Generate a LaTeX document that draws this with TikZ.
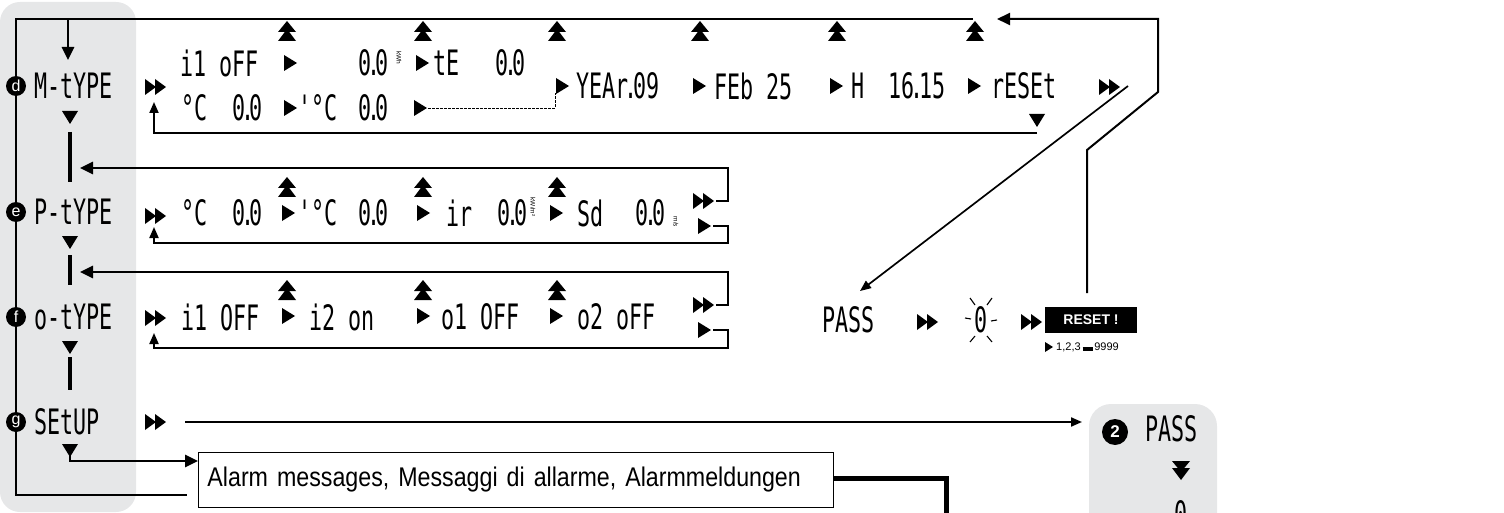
\documentclass[tikz,border=0pt]{standalone}
\usepackage{fontspec}
\setmainfont{Liberation Sans}
\newfontfamily\lcdfont[FakeStretch=0.62]{DejaVu Sans Mono}
\newfontfamily\narrowfont[FakeStretch=0.86]{Liberation Sans}
\usetikzlibrary{arrows.meta}
\definecolor{panelgray}{HTML}{E6E7E8}
% decimal point that takes almost no room, as on a segment display
\newcommand\lcdpt{\kern-0.12em.\kern-0.12em}

\tikzset{
  fwd/.pic={\fill (-6,-8) -- (7,0) -- (-6,8) -- cycle;},
  smallfwd/.pic={\fill (-4,-5) -- (4,0) -- (-4,5) -- cycle;},
  ffwd/.pic={\fill (-11,-8) -- (0,0) -- (-11,8) -- cycle;
             \fill (-1,-8) -- (10,0) -- (-1,8) -- cycle;},
  upup/.pic={\fill (0,-11) -- (9,0) -- (-9,0) -- cycle;
             \fill (0,-3) -- (9,9) -- (-9,9) -- cycle;},
  dn/.pic={\fill (-8,-6) -- (8,-6) -- (0,7) -- cycle;},
  dndn/.pic={\fill (-9,-9) -- (9,-9) -- (0,2) -- cycle;
             \fill (-9,-2) -- (9,-2) -- (0,10) -- cycle;},
}

\begin{document}
\begin{tikzpicture}[x=1pt,y=-1pt,
  lcd/.style={font=\lcdfont\fontsize{35}{35}\selectfont, inner sep=0pt, anchor=west},
  unit/.style={font=\fontsize{6.5}{6.5}\selectfont, inner sep=0pt, rotate=-90},
  circ/.style={circle, fill=black, text=white, inner sep=0pt, minimum size=20pt,
               font=\fontsize{16}{16}\selectfont},
  wire/.style={line width=2.8pt},
  ret/.style={line width=2pt},
  thinwire/.style={line width=1.7pt},
  tip/.style={-{Triangle[length=13pt,width=12pt]}},
  smalltip/.style={-{Triangle[length=11pt,width=9pt]}},
  bar/.style={line width=3.2pt},
]
\useasboundingbox (0,0) rectangle (1504,513);

% grey panels
\fill[panelgray, rounded corners=20pt] (0,2) rectangle (136,512);
\fill[panelgray, rounded corners=22pt] (1089,404) rectangle (1217,570);

% ---------- main loop on the left ----------
\coordinate (topR) at (973,19);
\coordinate (topL) at (16,19);
\coordinate (botL) at (16,495);
\coordinate (botR) at (187,495);
\draw[wire, line join=miter] (topR) -- (topL) -- (botL) -- (botR);
\coordinate (mIn0) at (68,19);
\coordinate (mIn1) at (68,60);
\draw[wire, tip] (mIn0) -- (mIn1);

% menu entries
\node[circ] (cd) at (16,86) {d};
\node[circ] (ce) at (16,212) {e};
\node[circ] (cf) at (16,317) {f};
\node[circ] (cg) at (16,422) {g};
\node[lcd] (mtype) at (34,86) {M-tYPE};
\node[lcd] (ptype) at (34,212) {P-tYPE};
\node[lcd] (otype) at (34,317) {o-tYPE};
\node[lcd] (setup) at (34,422) {SEtUP};

\pic at (70,117) {dn};
\pic at (70,242) {dn};
\pic at (70,347) {dn};
\pic at (70,450) {dn};
\draw[bar] (70,132) -- (70,182);
\draw[bar] (70,255) -- (70,285);
\draw[bar] (70,357) -- (70,390);

% ---------- row d ----------
\pic at (156,87) {ffwd};
\node[lcd] (d1) at (180,63) {i1 oFF};
\pic at (290,63) {fwd};
\node[lcd] (d2) at (358,63) {0\lcdpt0};
\node[unit] (d2u) at (399,58) {kWh};
\pic at (422,63) {fwd};
\node[lcd] (d3) at (433,63) {tE};
\node[lcd] (d4) at (495,63) {0\lcdpt0};

\node[lcd] (d5) at (181,108) {°C};
\node[lcd] (d6) at (232,108) {0\lcdpt0};
\pic at (290,108) {fwd};
\node[lcd] (d7) at (298,108) {'°C};
\node[lcd] (d8) at (358,108) {0\lcdpt0};
\pic at (420,108) {fwd};
\coordinate (dashA) at (428,108);
\coordinate (dashB) at (555,108);
\coordinate (dashC) at (555,93);
\draw[line width=0.8pt, dash pattern=on 2.5pt off 1.5pt] (dashA) -- (dashB) -- (dashC);

\pic at (562,86) {fwd};
\node[lcd] (d9) at (576,86) {YEAr\lcdpt09};
\pic at (699,86) {fwd};
\node[lcd] (d10) at (714,86) {FEb 25};
\pic at (836,86) {fwd};
\node[lcd] (d11) at (851,86) {H};
\node[lcd] (d12) at (888,86) {16\lcdpt15};
\pic at (974,86) {fwd};
\node[lcd] (d13) at (991,86) {rESEt};
\pic at (1110,87) {ffwd};

\foreach \x in {287,423,557,700,837,975} \pic at (\x,32) {upup};
\pic at (1037,120) {dn};
\coordinate (dR) at (1037,133);
\coordinate (dL) at (154,133);
\coordinate (dUp) at (154,102);
\draw[ret, smalltip] (dR) -- (dL) -- (dUp);

% ---------- row e ----------
\pic at (156,216) {ffwd};
\node[lcd] (e1) at (181,213) {°C};
\node[lcd] (e2) at (232,213) {0\lcdpt0};
\pic at (288,213) {fwd};
\node[lcd] (e3) at (298,213) {'°C};
\node[lcd] (e4) at (358,213) {0\lcdpt0};
\pic at (423,213) {fwd};
\node[lcd] (e5) at (446,213) {ir};
\node[lcd] (e6) at (497,213) {0\lcdpt0};
\node[unit] (e6u) at (533,207) {kW/m²};
\pic at (556,213) {fwd};
\node[lcd] (e7) at (577,213) {Sd};
\node[lcd] (e8) at (635,213) {0\lcdpt0};
\node[unit] (e8u) at (676,222) {m/s};
\pic at (704,201) {ffwd};
\pic at (704,226) {fwd};
\foreach \x in {287,423,557} \pic at (\x,188) {upup};
\coordinate (eT0) at (716,201);
\coordinate (eT1) at (728,201);
\coordinate (eT2) at (728,168);
\coordinate (eT3) at (80,168);
\draw[wire, tip, line join=miter] (eT0) -- (eT1) -- (eT2) -- (eT3);
\coordinate (eB0) at (713,226);
\coordinate (eB1) at (728,226);
\coordinate (eB2) at (728,243);
\coordinate (eB3) at (154,243);
\coordinate (eB4) at (154,227);
\draw[ret, smalltip, line join=miter] (eB0) -- (eB1) -- (eB2) -- (eB3) -- (eB4);

% ---------- row f ----------
\pic at (156,318) {ffwd};
\node[lcd] (f1) at (181,317) {i1 OFF};
\pic at (288,316) {fwd};
\node[lcd] (f2) at (309,317) {i2 on};
\pic at (423,316) {fwd};
\node[lcd] (f3) at (441,317) {o1 OFF};
\pic at (556,316) {fwd};
\node[lcd] (f4) at (577,317) {o2 oFF};
\pic at (704,305) {ffwd};
\pic at (704,330) {fwd};
\foreach \x in {287,423,557} \pic at (\x,291) {upup};
\coordinate (fT0) at (716,305);
\coordinate (fT1) at (728,305);
\coordinate (fT2) at (728,272);
\coordinate (fT3) at (80,272);
\draw[wire, tip, line join=miter] (fT0) -- (fT1) -- (fT2) -- (fT3);
\coordinate (fB0) at (713,330);
\coordinate (fB1) at (728,330);
\coordinate (fB2) at (728,348);
\coordinate (fB3) at (154,348);
\coordinate (fB4) at (154,333);
\draw[ret, smalltip, line join=miter] (fB0) -- (fB1) -- (fB2) -- (fB3) -- (fB4);

% ---------- row g ----------
\pic at (156,422) {ffwd};
\coordinate (gA) at (185,422);
\draw[ret, smalltip] (gA) -- (1082,422);

% ---------- password / reset ----------
\node[lcd] (pass) at (822,320) {PASS};
\pic at (928,322) {ffwd};
\node[lcd, anchor=center] (digit) at (981,320) {0};
\begin{scope}[line width=1.1pt]
  \draw (970,298) -- (975,305);
  \draw (992,298) -- (987,305);
  \draw (965,318) -- (971,319);
  \draw (991,321) -- (997,320);
  \draw (970,342) -- (975,336);
  \draw (992,342) -- (987,336);
\end{scope}
\pic at (1032,322) {ffwd};
\node[fill=black, text=white, font=\bfseries\fontsize{14}{14}\selectfont,
      minimum width=92pt, minimum height=26pt, inner sep=0pt] (reset) at (1091,320) {RESET !};
\pic at (1049,347) {smallfwd};
\node[anchor=west, inner sep=0pt, font=\fontsize{11}{11}\selectfont] (range) at (1056,347)
  {1,2,3\,\rule[-0.5pt]{10pt}{3.5pt}\,9999};

\coordinate (rs0) at (1087,293);
\coordinate (rs1) at (1087,150);
\coordinate (rs2) at (1158,92);
\coordinate (rs3) at (1158,19);
\coordinate (rs4) at (997,19);
\draw[ret, tip, line join=miter] (rs0) -- (rs1) -- (rs2) -- (rs3) -- (rs4);

\coordinate (pd0) at (1128,86);
\coordinate (pd1) at (860,291);
\draw[thinwire, smalltip] (pd0) -- (pd1);

% ---------- alarm messages ----------
\node[draw, line width=0.9pt, anchor=north west, minimum height=55pt,
      text width=617pt, inner xsep=9pt, font=\narrowfont\fontsize{27}{27}\selectfont]
      (alarm) at (198,452) {Alarm messages, Messaggi di allarme, Alarmmeldungen};
\coordinate (al0) at (70,456);
\coordinate (al1) at (70,461);
\draw[wire, tip] (al0) -- (al1) -- (alarm.west |- al1);
\coordinate (th1) at (946,478);
\coordinate (th2) at (946,530);
\draw[line width=5pt, line join=miter] (alarm.east |- th1) -- (th1) -- (th2);

% ---------- second menu ----------
\node[circ, minimum size=26pt, font=\bfseries\fontsize{17}{17}\selectfont] (c2) at (1115,432) {2};
\node[lcd] (pass2) at (1145,429) {PASS};
\pic at (1181,470) {dndn};
\node[lcd, anchor=center] (pass2d) at (1181,514) {0};
\end{tikzpicture}
\end{document}
